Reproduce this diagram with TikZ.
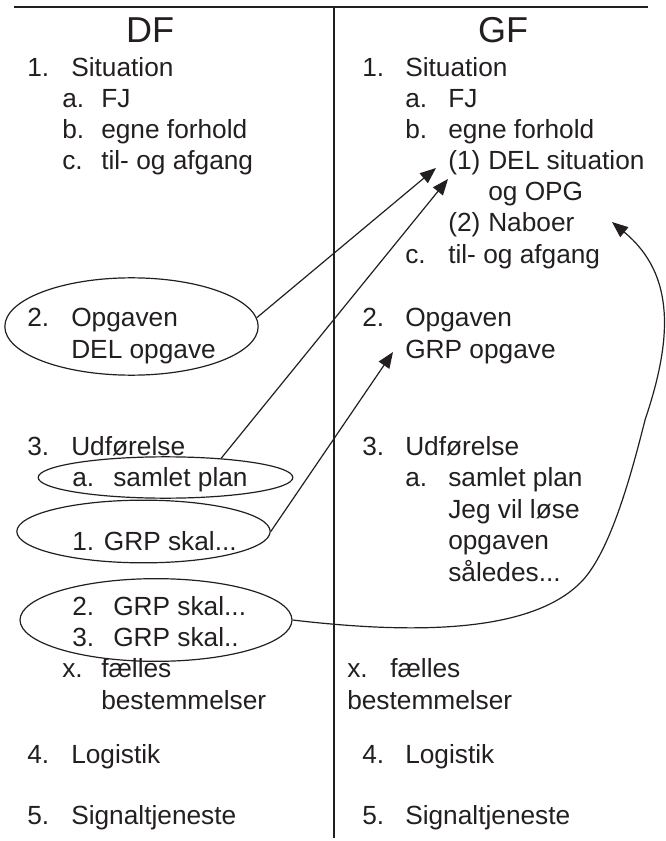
\documentclass[tikz,border=0pt]{standalone}
\usepackage{fontspec}
\setmainfont{Liberation Sans}
\usetikzlibrary{shapes.geometric,arrows.meta}
\definecolor{ink}{RGB}{35,31,32}
\tikzset{
  txt/.style={anchor=base west,inner sep=0pt,text=ink,font=\fontsize{19.7}{23}\selectfont},
  head/.style={anchor=base,inner sep=0pt,text=ink,font=\fontsize{27}{30}\selectfont},
  ring/.style={ellipse,draw=ink,line width=0.9pt,inner sep=0pt},
  link/.style={draw=ink,line width=0.9pt,-{Triangle[length=12pt,width=9.5pt]}}
}
\begin{document}
\begin{tikzpicture}[x=0.75pt,y=0.75pt,yscale=-1,xscale=1]
\useasboundingbox (0,0) rectangle (666,841);

%Straight Lines
\draw [draw=ink,line width=0.9pt] (14,7) -- (648,7) ;
\draw [draw=ink,line width=0.9pt] (334,7) -- (334,838) ;

% Text Node
\node [head] (hdf) at (150,43) {DF};
\node [head] (hgf) at (503,43) {GF};

%% left column
% Text Node
\node [txt] (l1n) at (27,77) {1.};
\node [txt] (l1) at (71,77) {Situation};
\node [txt] (l1an) at (62,108) {a.};
\node [txt] (l1a) at (101,108) {FJ};
\node [txt] (l1bn) at (62,139) {b.};
\node [txt] (l1b) at (101,139) {egne forhold};
\node [txt] (l1cn) at (62,170) {c.};
\node [txt] (l1c) at (101,170) {til- og afgang};
% Text Node
\node [txt] (l2n) at (27,326) {2.};
\node [txt] (l2) at (71,326) {Opgaven};
\node [txt] (l2b) at (71,358) {DEL opgave};
% Text Node
\node [txt] (l3n) at (27,455) {3.};
\node [txt] (l3) at (71,455) {Udførelse};
\node [txt] (l3an) at (72,486) {a.};
\node [txt] (l3a) at (113,486) {samlet plan};
\node [txt] (lg1) at (72,550) {1. GRP skal...};
\node [txt] (lg2n) at (72,615) {2.};
\node [txt] (lg2) at (113,615) {GRP skal...};
\node [txt] (lg3n) at (72,646) {3.};
\node [txt] (lg3) at (113,646) {GRP skal..};
\node [txt] (lxn) at (62,677) {x.};
\node [txt] (lx) at (101,677) {fælles};
\node [txt] (lxb) at (101,709) {bestemmelser};
% Text Node
\node [txt] (l4n) at (27,763) {4.};
\node [txt] (l4) at (71,763) {Logistik};
\node [txt] (l5n) at (27,824) {5.};
\node [txt] (l5) at (71,824) {Signaltjeneste};

%% right column
% Text Node
\node [txt] (r1n) at (362,77) {1.};
\node [txt] (r1) at (405,77) {Situation};
\node [txt] (r1an) at (405,108) {a.};
\node [txt] (r1a) at (448,108) {FJ};
\node [txt] (r1bn) at (405,139) {b.};
\node [txt] (r1b) at (448,139) {egne forhold};
\node [txt] (rdeln) at (448,170) {(1)};
\node [txt] (rdel) at (488,170) {DEL situation};
\node [txt] (rdelb) at (488,201) {og OPG};
\node [txt] (rnabn) at (448,232) {(2)};
\node [txt] (rnab) at (488,232) {Naboer};
\node [txt] (r1cn) at (405,263) {c.};
\node [txt] (r1c) at (448,263) {til- og afgang};
% Text Node
\node [txt] (r2n) at (362,326) {2.};
\node [txt] (r2) at (405,326) {Opgaven};
\node [txt] (r2b) at (405,358) {GRP opgave};
% Text Node
\node [txt] (r3n) at (362,455) {3.};
\node [txt] (r3) at (405,455) {Udførelse};
\node [txt] (r3an) at (405,486) {a.};
\node [txt] (r3a) at (448,486) {samlet plan};
\node [txt] (r3b) at (448,518) {Jeg vil løse};
\node [txt] (r3c) at (448,549) {opgaven};
\node [txt] (r3d) at (448,581) {således...};
\node [txt] (rxn) at (347,677) {x.};
\node [txt] (rx) at (390,677) {fælles};
\node [txt] (rxb) at (347,709) {bestemmelser};
% Text Node
\node [txt] (r4n) at (362,763) {4.};
\node [txt] (r4) at (405,763) {Logistik};
\node [txt] (r5n) at (362,824) {5.};
\node [txt] (r5) at (405,824) {Signaltjeneste};

%Shape: Ellipse
\node [ring,minimum width=190pt,minimum height=73pt] (e1) at (131.5,326.5) {};
\node [ring,minimum width=191pt,minimum height=31pt] (e2) at (165.5,477.5) {};
\node [ring,minimum width=190pt,minimum height=47pt] (e3) at (143.5,531.5) {};
\node [ring,minimum width=204pt,minimum height=62pt] (e4) at (156,620) {};

%Arrow tips
\coordinate (t1) at (436,168);
\coordinate (t2) at (448,179);
\coordinate (t3) at (393,352);
\coordinate (t4) at (612,222);

%Straight Lines
\draw [link] (e1.4) -- (t1) ;
\draw [link] (e2.19) -- (t2) ;
\draw [link] (e3.east) -- (t3) ;
%Curve Lines
\draw [link] (e4.east) .. controls (420,635) and (535,632) .. (583,580)
  .. controls (610,550) and (630,480) .. (645,420)
  .. controls (672,340) and (676,275) .. (t4) ;

\end{tikzpicture}
\end{document}
